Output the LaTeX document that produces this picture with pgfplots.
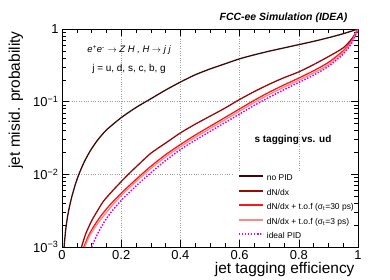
\documentclass[border=0pt]{standalone}
\usepackage{fontspec}
\setmainfont{Liberation Sans}
\usepackage{pgfplots}
\pgfplotsset{compat=1.18}
\definecolor{cNo}{RGB}{60,8,8}
\definecolor{cDN}{RGB}{150,10,10}
\definecolor{cT30}{RGB}{250,25,25}
\definecolor{cT3}{RGB}{255,135,135}
\definecolor{cId}{RGB}{225,0,225}
\begin{document}
\begin{tikzpicture}
\path[use as bounding box] (-62bp,-33bp) rectangle (328bp,247bp);
\begin{axis}[
  scale only axis, width=296bp, height=218bp,
  at={(0,0)}, anchor=south west,
  xmin=0, xmax=1, ymin=1e-3, ymax=1, ymode=log,
  axis line style={black, line width=0.6bp},
  tick align=inside, xtick pos=both, ytick pos=both,
  major tick length=7bp, minor tick length=4bp,
  every tick/.style={black, line width=0.5bp},
  minor x tick num=3,
  grid=major, major grid style={dotted, gray!75, line width=0.6bp},
  tick label style={font=\fontsize{13}{13}\selectfont},
  xtick={0,0.2,0.4,0.6,0.8,1}, xticklabels={0,0.2,0.4,0.6,0.8,1},
  ytick={0.001,0.01,0.1,1}, yticklabels={10\textsuperscript{−3},10\textsuperscript{−2},10\textsuperscript{−1},1},
  legend style={draw=none, fill=none, at={(axis description cs:0.5946,0.333)}, anchor=north west,
    inner sep=0pt, outer sep=0pt, row sep=6.2bp, column sep=3bp,
    font=\fontsize{8.5}{8.5}\selectfont,
    nodes={inner sep=0pt, text height=6.3bp, text depth=2bp}},
  legend cell align=left,
  legend image code/.code={\draw[#1, line width=1.9bp] plot coordinates {(0bp,2.4bp) (12bp,2.4bp) (24bp,2.4bp)};},
  every axis plot/.append style={smooth, tension=0.4},
]
\fill[white] (rel axis cs:0.578,0.035) rectangle (rel axis cs:0.975,0.349);
\addplot[color=cNo, line width=1.3bp] table {
0.007 0.001
0.012 0.001660
0.018 0.002512
0.025 0.003548
0.033 0.004898
0.045 0.007244
0.057 0.01
0.075 0.01479
0.095 0.02089
0.12 0.02951
0.15 0.04074
0.20 0.06026
0.25 0.08318
0.30 0.1096
0.35 0.1445
0.40 0.1862
0.45 0.2344
0.50 0.2818
0.55 0.3311
0.60 0.3890
0.65 0.4416
0.70 0.4955
0.75 0.5495
0.80 0.6095
0.85 0.6761
0.90 0.7586
0.95 0.8610
1.0 1.0
};
\addlegendentry{no PID}
\addplot[color=cDN, line width=1.3bp] table {
0.066 0.001
0.08 0.001514
0.10 0.002291
0.12 0.003162
0.14 0.004266
0.17 0.005888
0.20 0.007943
0.224 0.01
0.26 0.01380
0.30 0.01950
0.35 0.02692
0.40 0.03715
0.45 0.04898
0.50 0.06310
0.55 0.08128
0.60 0.1072
0.65 0.1380
0.70 0.1738
0.75 0.2138
0.80 0.2570
0.85 0.3236
0.90 0.4169
0.95 0.5495
0.98 0.7413
1.0 1.0
};
\addlegendentry{dN/dx}
\addplot[color=cT30, line width=1.3bp] table {
0.074 0.001
0.09 0.001445
0.11 0.001995
0.13 0.002630
0.16 0.003715
0.20 0.005495
0.25 0.008511
0.30 0.01288
0.35 0.01862
0.40 0.02570
0.45 0.03467
0.50 0.04571
0.55 0.06026
0.60 0.07943
0.65 0.1047
0.70 0.1349
0.75 0.1698
0.80 0.2113
0.85 0.2661
0.90 0.3467
0.95 0.5012
0.98 0.6998
1.0 1.0
};
\addlegendentry{dN/dx + t.o.f (σ\textsubscript{t}=30 ps)}
\addplot[color=cT3, line width=1.3bp] table {
0.077 0.001
0.093 0.001413
0.113 0.001905
0.133 0.002455
0.163 0.003467
0.20 0.005129
0.25 0.007943
0.30 0.01202
0.35 0.01738
0.40 0.02399
0.45 0.03236
0.50 0.04266
0.55 0.05623
0.60 0.07413
0.65 0.09772
0.70 0.1259
0.75 0.1585
0.80 0.1972
0.85 0.2483
0.90 0.3236
0.95 0.4786
0.98 0.6761
1.0 1.0
};
\addlegendentry{dN/dx + t.o.f (σ\textsubscript{t}=3 ps)}
\addplot[color=cId, line width=1.5bp, dash pattern=on 1.5bp off 1.5bp] table {
0.100 0.001
0.12 0.001514
0.145 0.002291
0.17 0.003162
0.20 0.004365
0.25 0.006918
0.30 0.01047
0.35 0.01549
0.40 0.02188
0.45 0.02951
0.50 0.03890
0.55 0.05129
0.60 0.06761
0.65 0.08913
0.70 0.1148
0.75 0.1462
0.80 0.1841
0.85 0.2317
0.90 0.3055
0.95 0.4519
0.98 0.6531
1.0 1.0
};
\addlegendentry{ideal PID}
\end{axis}
\node[anchor=base east, font=\fontsize{10.5}{10.5}\selectfont\bfseries\itshape] at (289bp,226bp) {FCC-ee Simulation (IDEA)};
\node[anchor=base east, font=\fontsize{15.5}{15.5}\selectfont] at (296bp,-26bp) {jet tagging efficiency};
\node[rotate=90, anchor=base east, font=\fontsize{15.5}{15.5}\selectfont] at (-42bp,219bp) {jet misid. probability};
\node[font=\fontsize{9.5}{9.5}\selectfont\itshape] at (67bp,197bp) {e\textsuperscript{+}e\textsuperscript{-} $\rightarrow$ Z H , H $\rightarrow$ j j};
\node[font=\fontsize{10}{10}\selectfont] at (67bp,178bp) {j = u, d, s, c, b, g};
\node[anchor=base, font=\fontsize{10}{10}\selectfont\bfseries] at (231bp,104bp) {s tagging vs. ud};
\end{tikzpicture}
\end{document}
